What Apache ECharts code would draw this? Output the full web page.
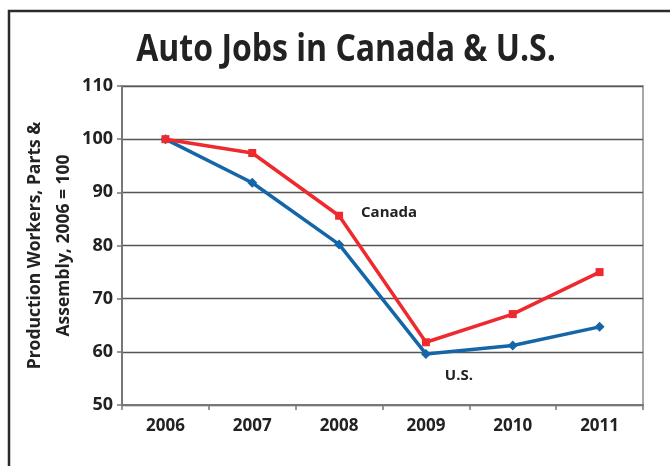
<!DOCTYPE html>
<html>
<head>
<meta charset="utf-8">
<script src="https://cdn.jsdelivr.net/npm/echarts@6/dist/echarts.min.js"></script>
<style>
  html, body { margin: 0; padding: 0; background: #fff; }
  #chart { width: 670px; height: 466px; }
</style>
</head>
<body>
<div id="chart"></div>
<script>
// Auto production jobs indexed to 2006 = 100
const years = ['2006', '2007', '2008', '2009', '2010', '2011'];
const canada = [100, 97.4, 85.6, 61.8, 67.1, 75.0];
const us = [100, 91.8, 80.2, 59.6, 61.2, 64.7];
const yTicks = { min: 50, max: 110, step: 10 };

const bodyFont = "'Open Sans', 'Noto Sans', sans-serif";

const chart = echarts.init(document.getElementById('chart'), null, { renderer: 'canvas' });

// Series points carrying an inline name label
function withLabel(values, index, text, offset) {
  return values.map((v, i) => i === index ? {
    value: v,
    label: {
      show: true, position: 'inside', offset: offset, formatter: text,
      fontFamily: bodyFont, fontWeight: 'bold', fontSize: 15, color: '#222'
    }
  } : v);
}

chart.setOption({
  animation: false,
  backgroundColor: '#fff',
  graphic: [
    {
      type: 'rect',
      shape: { x: 9, y: 11, width: 700, height: 500 },
      style: { fill: 'none', stroke: '#2b2b2b', lineWidth: 2.5 },
      silent: true
    },
    {
      // narrowed heading text
      type: 'text',
      x: 346, y: 50,
      scaleX: 0.865, scaleY: 1,
      style: {
        text: 'Auto Jobs in Canada & U.S.',
        fontFamily: bodyFont, fontWeight: 'bold', fontSize: 37, fill: '#222',
        align: 'center', verticalAlign: 'middle'
      },
      silent: true
    }
  ],
  grid: {
    left: 122, right: 27, top: 86, bottom: 61,
    containLabel: false,
    outerBoundsMode: 'none',
    show: true, borderColor: '#a8a8a8', borderWidth: 2, backgroundColor: 'transparent'
  },
  xAxis: {
    type: 'category',
    data: years,
    boundaryGap: true,
    axisLine: { lineStyle: { color: '#777', width: 2 } },
    axisTick: { show: true, length: 5, lineStyle: { color: '#777', width: 1.5 } },
    axisLabel: { fontFamily: bodyFont, fontWeight: 'bold', fontSize: 17, color: '#222', margin: 13 }
  },
  yAxis: {
    type: 'value',
    min: yTicks.min, max: yTicks.max, interval: yTicks.step,
    name: 'Production Workers, Parts &\nAssembly, 2006 = 100',
    nameLocation: 'middle',
    nameGap: 43,
    nameMoveOverlap: false,
    nameTextStyle: { fontFamily: bodyFont, fontWeight: 'bold', fontSize: 17.5, color: '#222', lineHeight: 29 },
    axisLine: { show: true, lineStyle: { color: '#777', width: 2 } },
    axisTick: { show: true, length: 5, lineStyle: { color: '#777', width: 1.5 } },
    axisLabel: { fontFamily: bodyFont, fontWeight: 'bold', fontSize: 18, color: '#222', margin: 9 },
    splitLine: { lineStyle: { color: '#555', width: 1.3 } }
  },
  series: [
    {
      name: 'U.S.',
      type: 'line',
      data: withLabel(us, 3, 'U.S.', [33, 22]),
      symbol: 'diamond', symbolSize: 10,
      itemStyle: { color: '#1466a8' },
      lineStyle: { color: '#1466a8', width: 3.5 },
      z: 3
    },
    {
      name: 'Canada',
      type: 'line',
      data: withLabel(canada, 2, 'Canada', [50, -3]),
      symbol: 'rect', symbolSize: 8,
      itemStyle: { color: '#ee2a2e' },
      lineStyle: { color: '#ee2a2e', width: 3.5 },
      z: 4
    }
  ]
});
</script>
</body>
</html>
